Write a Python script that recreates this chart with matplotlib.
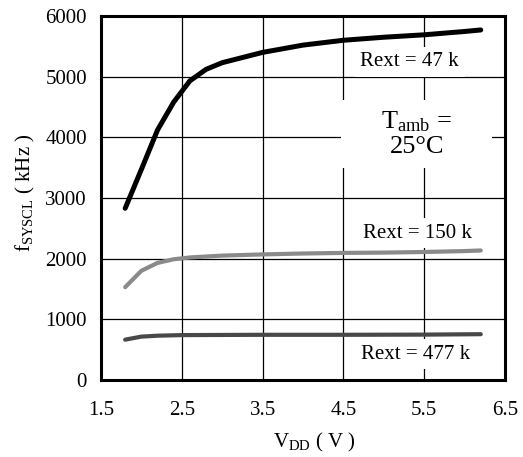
import matplotlib
matplotlib.use("Agg")
import matplotlib.pyplot as plt
from matplotlib.patches import Rectangle

plt.rcParams['font.family'] = ['Liberation Serif', 'DejaVu Serif']
plt.rcParams['mathtext.fontset'] = 'custom'
plt.rcParams['mathtext.rm'] = 'Liberation Serif'
plt.rcParams['mathtext.it'] = 'Liberation Serif:italic'

# Data
vdd_47k = [1.8, 2.0, 2.2, 2.4, 2.6, 2.8, 3.0, 3.5, 4.0, 4.5, 5.0, 5.5, 6.0, 6.2]
f_47k = [2830, 3470, 4120, 4580, 4930, 5120, 5230, 5400, 5520, 5600, 5650, 5690, 5745, 5770]

vdd_150k = [1.8, 2.0, 2.2, 2.4, 2.6, 3.0, 3.5, 4.0, 4.5, 5.0, 5.5, 6.0, 6.2]
f_150k = [1530, 1800, 1930, 1990, 2020, 2050, 2070, 2085, 2095, 2100, 2110, 2125, 2135]

vdd_477k = [1.8, 2.0, 2.2, 2.5, 3.5, 4.5, 5.5, 6.2]
f_477k = [665, 715, 730, 740, 745, 745, 748, 755]

x_ticks = [1.5, 2.5, 3.5, 4.5, 5.5, 6.5]
y_ticks = [0, 1000, 2000, 3000, 4000, 5000, 6000]

fig = plt.figure(figsize=(5.23, 4.57), dpi=100)
ax = fig.add_axes([0.193, 0.1685, 0.7726, 0.7965])

ax.plot(vdd_47k, f_47k, color='black', lw=3.6, solid_capstyle='round', zorder=3)
ax.plot(vdd_150k, f_150k, color='#8a8a8a', lw=3.0, solid_capstyle='round', zorder=3)
ax.plot(vdd_477k, f_477k, color='#484848', lw=3.0, solid_capstyle='round', zorder=3)

ax.set_xlim(1.5, 6.5)
ax.set_ylim(0, 6000)
ax.set_xticks(x_ticks)
ax.set_xticklabels([str(t) for t in x_ticks])
ax.set_yticks(y_ticks)
ax.set_yticklabels([str(t) for t in y_ticks])
ax.tick_params(axis='both', length=0, labelsize=15)
ax.tick_params(axis='x', pad=15)
ax.tick_params(axis='y', pad=10)
ax.grid(True, color='black', lw=0.9, zorder=1)
ax.set_axisbelow(True)
for s in ax.spines.values():
    s.set_linewidth(2.2)

# white area behind the temperature note
ax.add_patch(Rectangle((4.47, 3494), 1.87, 1121, facecolor='white', edgecolor='none', zorder=1.5))

box = dict(facecolor='white', edgecolor='none', pad=4)
ax.text(5.32, 5247, 'Rext = 47 k', fontsize=15, ha='center', va='center', bbox=box, zorder=2)
ax.text(5.42, 2418, 'Rext = 150 k', fontsize=15, ha='center', va='center', bbox=box, zorder=2)
ax.text(5.39, 428, 'Rext = 477 k', fontsize=15, ha='center', va='center', bbox=box, zorder=2)
ax.text(5.41, 4063, '$\\mathregular{T_{amb}}$ =\n25°C', fontsize=19, ha='center', va='center',
        linespacing=1.12, zorder=2)

fig.text(0.048, 0.578, '$\\mathregular{f_{SYSCL}}$ ( kHz )', fontsize=15, rotation=90, ha='center', va='center')
fig.text(0.600, 0.031, '$\\mathregular{V_{DD}}$ ( V )', fontsize=15, ha='center', va='center')

fig.savefig('out.png', dpi=100)
